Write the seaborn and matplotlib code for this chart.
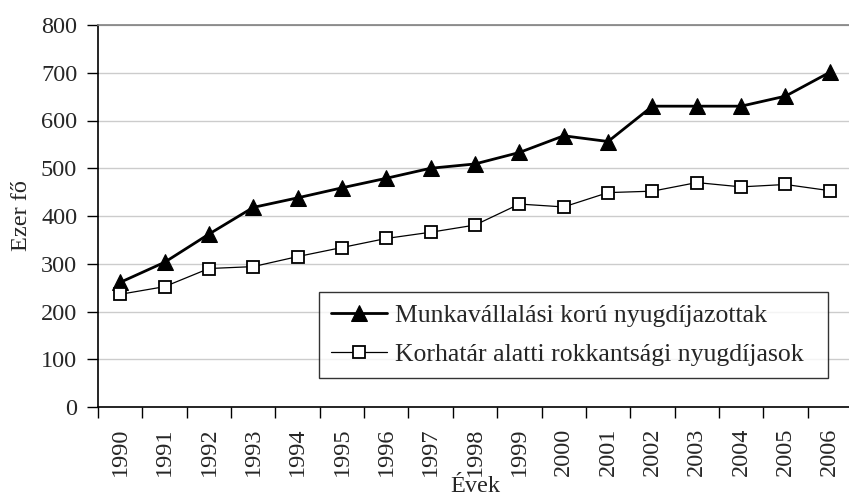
import numpy as np
import pandas as pd
import seaborn as sns
import matplotlib.pyplot as plt
from matplotlib.ticker import FixedLocator

years = list(range(1990, 2007))
munka = [261, 303, 362, 418, 438, 459, 479, 500, 509, 533, 568, 556, 630, 630, 630, 651, 701]
rokkant = [236, 252, 290, 294, 315, 334, 353, 366, 381, 425, 419, 449, 452, 470, 461, 466, 453]
labels = ["Munkavállalási korú nyugdíjazottak", "Korhatár alatti rokkantsági nyugdíjasok"]

df = pd.DataFrame({"ev": years, "munka": munka, "rokkant": rokkant})

sns.set_style("white")
plt.rcParams["font.family"] = ["Liberation Serif", "DejaVu Serif"]

fig = plt.figure(figsize=(8.49, 5.0), dpi=100)
ax = fig.add_axes([98 / 849, 1 - 407 / 500, (852 - 98) / 849, (407 - 25) / 500])

sns.lineplot(data=df, x="ev", y="munka", ax=ax, color="black", linewidth=2.0,
             marker="^", markersize=11, markerfacecolor="black", markeredgecolor="black",
             label=labels[0])
sns.lineplot(data=df, x="ev", y="rokkant", ax=ax, color="black", linewidth=0.9,
             marker="s", markersize=8.5, markerfacecolor="white", markeredgecolor="black",
             markeredgewidth=1.3, label=labels[1])

ax.set_xlim(1989.5, 2006.5)
ax.set_ylim(0, 800)
ax.set_yticks(range(0, 801, 100))
ax.yaxis.grid(True, color="#cccccc", linewidth=1)
ax.set_axisbelow(True)

ax.set_xticks(years)
ax.set_xticklabels([str(y) for y in years], rotation=90, fontsize=17.5)
ax.xaxis.set_minor_locator(FixedLocator(np.arange(1989.5, 2007, 1)))
ax.tick_params(axis="x", which="major", length=0, pad=15)
ax.tick_params(axis="x", which="minor", length=8, width=1, color="black", direction="out", bottom=True)
ax.tick_params(axis="y", length=8, width=1, color="black", direction="out", left=True, labelsize=17.5, pad=7)

for s in ["left", "bottom"]:
    ax.spines[s].set_color("black")
    ax.spines[s].set_linewidth(1.2)
ax.spines["top"].set_color("#808080")
ax.spines["top"].set_linewidth(1.2)
ax.spines["right"].set_visible(False)

ax.set_xlabel("Évek", fontsize=17.5)
ax.xaxis.set_label_coords(0.5, -0.18)
ax.set_ylabel("Ezer fő", fontsize=17.5)
ax.yaxis.set_label_coords(-0.088, 0.5)

leg = ax.legend(loc="lower left", bbox_to_anchor=((319 - 98) / 754, (407 - 378) / 382, (828 - 319) / 754, (378 - 290) / 382),
                mode="expand", fontsize=18.5, frameon=True, fancybox=False, handlelength=2.2,
                handletextpad=0.3, borderpad=0.45, labelspacing=0.65, borderaxespad=0)
leg.get_frame().set_edgecolor("black")
leg.get_frame().set_linewidth(1)

fig.savefig("out.png", dpi=100)
